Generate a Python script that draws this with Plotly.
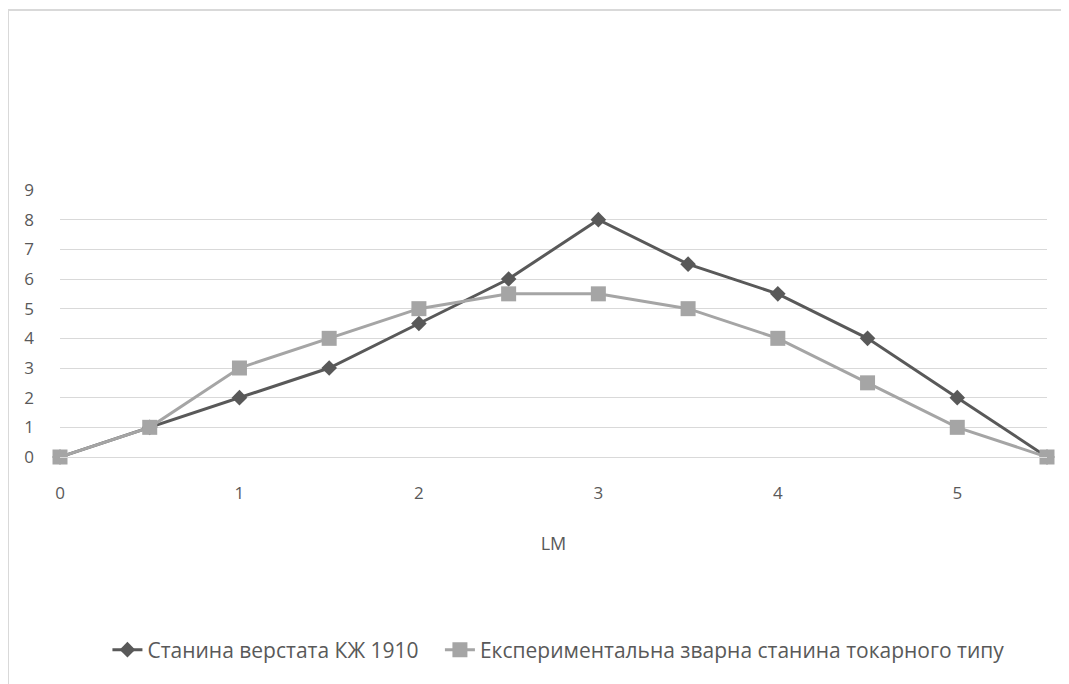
import plotly.graph_objects as go

x_vals = [0, 0.5, 1, 1.5, 2, 2.5, 3, 3.5, 4, 4.5, 5, 5.5]
series1_name = "Станина верстата КЖ 1910"
series1 = [0, 1, 2, 3, 4.5, 6, 8, 6.5, 5.5, 4, 2, 0]
series2_name = "Експериментальна зварна станина токарного типу"
series2 = [0, 1, 3, 4, 5, 5.5, 5.5, 5, 4, 2.5, 1, 0]
x_ticks = [0, 1, 2, 3, 4, 5]
y_ticks = [0, 1, 2, 3, 4, 5, 6, 7, 8, 9]
x_title = "LM"

# page body has an 8px offset; coordinates below are in figure space
OFF = 8
W, H = 1069, 684
L = 60 - OFF
R = W - (1047 - OFF)
T = 190 - OFF
B = H - (457 - OFF)
pw, ph = W - L - R, H - T - B

fig = go.Figure()
fig.add_trace(go.Scatter(
    x=x_vals, y=series1, name=series1_name + "   ", mode="lines+markers",
    line=dict(color="#595959", width=3),
    marker=dict(symbol="diamond", size=12, color="#595959"),
    cliponaxis=False,
))
fig.add_trace(go.Scatter(
    x=x_vals, y=series2, name=series2_name, mode="lines+markers",
    line=dict(color="#A5A5A5", width=3),
    marker=dict(symbol="square", size=15, color="#A5A5A5"),
    cliponaxis=False,
))

fam = "Open Sans, Liberation Sans, sans-serif"
font = dict(family=fam, size=17, color="#595959")

def px_x(p):
    return (p - OFF - L) / pw

def px_y(p):
    return (H - B - (p - OFF)) / ph

fig.update_layout(
    width=W, height=H,
    margin=dict(l=L, r=R, t=T, b=B),
    paper_bgcolor="white", plot_bgcolor="white",
    font=font,
    showlegend=True,
    legend=dict(orientation="h", x=0.505, xanchor="center", y=px_y(650), yanchor="middle",
                font=dict(family=fam, size=21, color="#595959"),
                tracegroupgap=0),
    xaxis=dict(range=[0, 5.5], tickvals=x_ticks, showgrid=False, zeroline=False,
               showline=True, linecolor="#d9d9d9", linewidth=1, ticks="",
               ticklabelstandoff=21, tickfont=dict(size=17),
               title=dict(text=x_title, standoff=33, font=dict(size=18, color="#595959"))),
    yaxis=dict(range=[0, 9], tickvals=y_ticks, showgrid=True, gridcolor="#d9d9d9",
               gridwidth=1, zeroline=False, showline=False, ticks="",
               ticklabelstandoff=25, tickfont=dict(size=17)),
    shapes=[dict(type="rect", xref="paper", yref="paper",
                 x0=px_x(8), x1=px_x(1090), y0=px_y(700), y1=px_y(10),
                 line=dict(color="#d9d9d9", width=2), layer="below")],
)

fig.write_html("out.html")
